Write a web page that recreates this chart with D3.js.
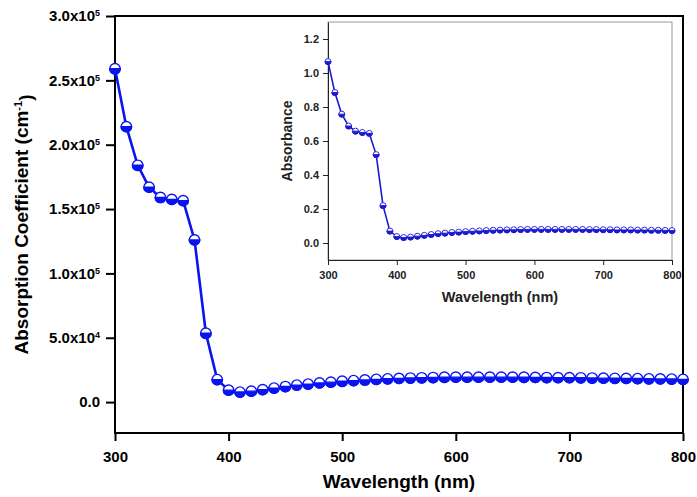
<!DOCTYPE html>
<html>
<head>
<meta charset="utf-8">
<script src="https://cdn.jsdelivr.net/npm/d3@7/dist/d3.min.js"></script>
<style>
  body { margin: 0; background: #fff; }
  text { font-family: "Liberation Sans", Arial, sans-serif; font-weight: bold; }
</style>
</head>
<body>
<div id="chart"></div>
<script>
var width = 697, height = 497;

// wavelength (nm), 10 nm steps
var wavelength = [300,310,320,330,340,350,360,370,380,390,400,410,420,430,440,450,460,470,480,490,
  500,510,520,530,540,550,560,570,580,590,600,610,620,630,640,650,660,670,680,690,
  700,710,720,730,740,750,760,770,780,790,800];

// absorption coefficient (cm^-1), main plot
var alpha = [259000,214000,184000,167000,159000,157500,156500,126000,53500,17500,9300,7800,8500,9700,10900,12100,13200,14000,14900,15500,
  16200,16700,17200,17700,18100,18400,18700,18900,19100,19300,19400,19400,19400,19400,19400,19400,19300,19200,19100,19000,
  19000,18900,18700,18600,18500,18400,18300,18100,18000,17900,17700];

// absorbance, inset
var absorbance = [1.067,0.885,0.758,0.688,0.658,0.650,0.645,0.520,0.220,0.070,0.038,0.032,0.035,0.040,0.045,0.050,0.055,0.058,0.062,0.064,
  0.067,0.069,0.071,0.073,0.075,0.076,0.077,0.078,0.079,0.080,0.080,0.080,0.080,0.080,0.080,0.080,0.080,0.080,0.079,0.079,
  0.078,0.078,0.077,0.077,0.077,0.076,0.076,0.075,0.075,0.074,0.073];

var mainYTicks = [0, 50000, 100000, 150000, 200000, 250000, 300000];
var mainYLabels = [["0.0", ""], ["5.0x10", "4"], ["1.0x10", "5"], ["1.5x10", "5"], ["2.0x10", "5"], ["2.5x10", "5"], ["3.0x10", "5"]];
var xTicks = [300, 400, 500, 600, 700, 800];
var insetYTicks = [0, 0.2, 0.4, 0.6, 0.8, 1.0, 1.2];

var main = wavelength.map(function(w, i) { return {x: w, y: alpha[i]}; });
var inset = wavelength.map(function(w, i) { return {x: w, y: absorbance[i]}; });

var svg = d3.select("#chart").append("svg").attr("width", width).attr("height", height);

// ---------- main plot
var m = {left: 115, right: 683, top: 16, bottom: 433};
var x = d3.scaleLinear().domain([300, 800]).range([m.left, m.right]);
var y = d3.scaleLinear().domain([-24000, 300000]).range([m.bottom, m.top]);

svg.append("rect").attr("x", m.left).attr("y", m.top)
  .attr("width", m.right - m.left).attr("height", m.bottom - m.top)
  .attr("fill", "none").attr("stroke", "#000").attr("stroke-width", 2);

var xAxis = svg.append("g").attr("transform", "translate(0," + m.bottom + ")")
  .call(d3.axisBottom(x).tickValues(xTicks).tickSize(8).tickPadding(10).tickFormat(d3.format("d")));
var yAxis = svg.append("g").attr("transform", "translate(" + m.left + ",0)")
  .call(d3.axisLeft(y).tickValues(mainYTicks).tickSize(9).tickPadding(7).tickFormat(""));
[xAxis, yAxis].forEach(function(a) {
  a.select(".domain").remove();
  a.selectAll("line").attr("stroke", "#000").attr("stroke-width", 2);
});
xAxis.selectAll("text").attr("font-size", 15).attr("fill", "#000")
  .attr("font-family", "Liberation Sans, Arial, sans-serif").attr("font-weight", "bold");

yAxis.selectAll(".tick").each(function(d, i) {
  var t = d3.select(this).select("text").text(null)
    .attr("font-size", 15).attr("fill", "#000").attr("x", -15)
    .attr("font-family", "Liberation Sans, Arial, sans-serif").attr("font-weight", "bold");
  t.append("tspan").text(mainYLabels[i][0]);
  if (mainYLabels[i][1]) t.append("tspan").attr("dy", "-0.55em").attr("font-size", 9).text(mainYLabels[i][1]);
});

var line = d3.line().x(function(d) { return x(d.x); }).y(function(d) { return y(d.y); });
svg.append("path").datum(main).attr("d", line)
  .attr("fill", "none").attr("stroke", "#0a14f0").attr("stroke-width", 2.6);

function halfMarkers(g, data, sx, sy, r, color, sw) {
  var mk = g.selectAll(null).data(data).enter().append("g")
    .attr("transform", function(d) { return "translate(" + sx(d.x) + "," + sy(d.y) + ")"; });
  mk.append("circle").attr("r", r).attr("fill", "#fff").attr("stroke", color).attr("stroke-width", sw);
  mk.append("path").attr("d", "M" + (-r) + ",0A" + r + "," + r + " 0 0,0 " + r + ",0Z").attr("fill", color)
    .attr("stroke", color).attr("stroke-width", sw);
}
halfMarkers(svg.append("g"), main, x, y, 5.2, "#0a14f0", 1.4);

svg.append("text").attr("x", (m.left + m.right) / 2).attr("y", 488)
  .attr("text-anchor", "middle").attr("font-size", 19).text("Wavelength (nm)");
var yt = svg.append("text").attr("transform", "translate(28," + (m.top + m.bottom) / 2 + ") rotate(-90)")
  .attr("text-anchor", "middle").attr("font-size", 19);
yt.append("tspan").text("Absorption Coefficient (cm");
yt.append("tspan").attr("dy", "-0.55em").attr("font-size", 11).text("-1");
yt.append("tspan").attr("dy", "0.55em").text(")");

// ---------- inset
var n = {left: 328, right: 672, top: 22, bottom: 260};
var ix = d3.scaleLinear().domain([300, 800]).range([n.left, n.right]);
var iy = d3.scaleLinear().domain([-0.1, 1.3]).range([n.bottom, n.top]);

svg.append("rect").attr("x", n.left).attr("y", n.top)
  .attr("width", n.right - n.left).attr("height", n.bottom - n.top)
  .attr("fill", "#fff").attr("stroke", "#999").attr("stroke-width", 1);

var ixAxis = svg.append("g").attr("transform", "translate(0," + n.bottom + ")")
  .call(d3.axisBottom(ix).tickValues(xTicks).tickSize(5).tickSizeOuter(0).tickPadding(6).tickFormat(d3.format("d")));
var iyAxis = svg.append("g").attr("transform", "translate(" + n.left + ",0)")
  .call(d3.axisLeft(iy).tickValues(insetYTicks).tickSize(5).tickSizeOuter(0).tickPadding(4).tickFormat(d3.format(".1f")));
[ixAxis, iyAxis].forEach(function(a) {
  a.selectAll("path, line").attr("stroke", "#222").attr("stroke-width", 1);
  a.selectAll("text").attr("font-size", 11).attr("fill", "#222")
    .attr("font-family", "Liberation Sans, Arial, sans-serif").attr("font-weight", "bold");
});

svg.append("path").datum(inset)
  .attr("d", d3.line().x(function(d) { return ix(d.x); }).y(function(d) { return iy(d.y); }))
  .attr("fill", "none").attr("stroke", "#1a1ad0").attr("stroke-width", 1.6);
halfMarkers(svg.append("g"), inset, ix, iy, 3, "#1a1ad0", 0.9);

svg.append("text").attr("x", (n.left + n.right) / 2).attr("y", 302)
  .attr("text-anchor", "middle").attr("font-size", 14.5).attr("fill", "#222").text("Wavelength (nm)");
svg.append("text").attr("transform", "translate(292," + (n.top + n.bottom) / 2 + ") rotate(-90)")
  .attr("text-anchor", "middle").attr("font-size", 14).attr("fill", "#222").text("Absorbance");
</script>
</body>
</html>
